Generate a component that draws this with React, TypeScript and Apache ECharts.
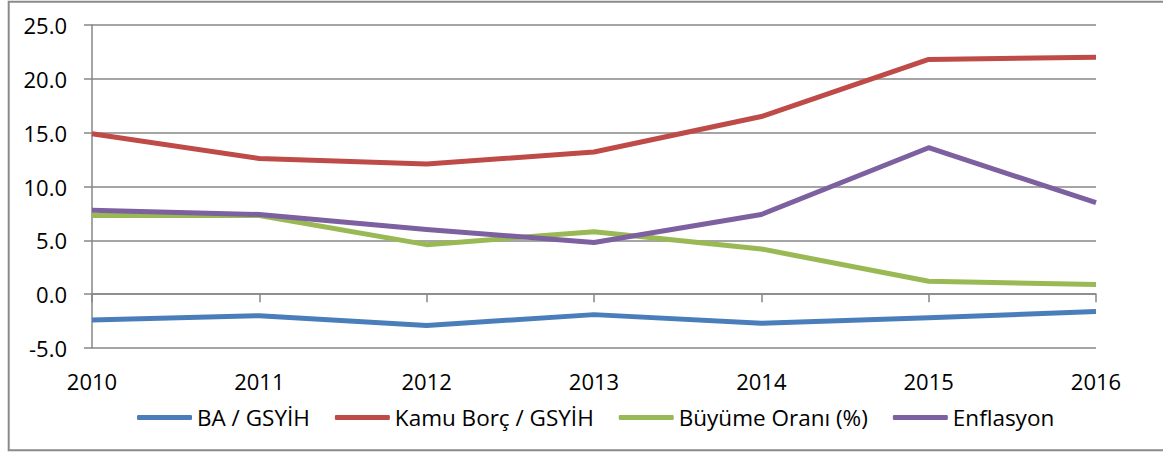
import React, { useEffect, useRef } from "react";
import * as echarts from "echarts";

const years = ["2010", "2011", "2012", "2013", "2014", "2015", "2016"];
const baGsyih = [-2.4, -2.0, -2.9, -1.9, -2.7, -2.2, -1.6];
const kamuBorc = [14.9, 12.6, 12.1, 13.2, 16.5, 21.8, 22.0];
const buyume = [7.3, 7.3, 4.6, 5.8, 4.2, 1.2, 0.9];
const enflasyon = [7.8, 7.4, 6.0, 4.8, 7.4, 13.6, 8.5];

const seriesNames = ["BA / GSYİH", "Kamu Borç / GSYİH", "Büyüme Oranı (%)", "Enflasyon"];
const seriesColors = ["#4A7EBB", "#BE4B48", "#98B954", "#7D60A0"];

const FONT = "'Open Sans', sans-serif";
const GRID_COLOR = "#878787";

export default function App() {
  const ref = useRef<HTMLDivElement>(null);

  useEffect(() => {
    if (!ref.current) return;
    const chart = echarts.init(ref.current, undefined, { renderer: "svg" });
    const dataSets = [baGsyih, kamuBorc, buyume, enflasyon];
    chart.setOption({
      animation: false,
      backgroundColor: "#ffffff",
      grid: { left: 92, right: 67, top: 25, bottom: 105, containLabel: false },
      legend: {
        left: 132,
        top: 401,
        itemWidth: 55,
        itemHeight: 5,
        itemGap: 25,
        icon: "roundRect",
        textStyle: { fontFamily: FONT, fontSize: 22.5, color: "#000" },
        data: seriesNames,
      },
      xAxis: [
        {
          type: "category",
          data: years,
          boundaryGap: false,
          position: "bottom",
          axisLine: { show: false, onZero: false },
          axisTick: { show: false },
          splitLine: { show: false },
          axisLabel: {
            color: "#000",
            fontFamily: FONT,
            fontSize: 22,
            margin: 22,
          },
        },
        {
          type: "category",
          data: years,
          boundaryGap: false,
          position: "bottom",
          axisLine: { show: true, onZero: true, lineStyle: { color: GRID_COLOR, width: 1.5 } },
          axisTick: { show: true, length: 8, lineStyle: { color: GRID_COLOR, width: 1.5 } },
          axisLabel: { show: false },
          splitLine: { show: false },
        },
      ],
      yAxis: {
        type: "value",
        min: -5,
        max: 25,
        interval: 5,
        axisLine: { show: true, lineStyle: { color: GRID_COLOR, width: 1.5 } },
        axisTick: { show: true, length: 8, lineStyle: { color: GRID_COLOR, width: 1.5 } },
        splitLine: { show: true, lineStyle: { color: GRID_COLOR, width: 1.5 } },
        axisLabel: {
          color: "#000",
          fontFamily: FONT,
          fontSize: 22,
          margin: 25,
          formatter: (v: number) => v.toFixed(1),
        },
      },
      graphic: [
        {
          type: "rect",
          shape: { x: 8.7, y: 1.8, width: 1180, height: 448.4 },
          style: { fill: "none", stroke: "#8a8a8a", lineWidth: 2 },
          silent: true,
          z: 100,
        },
      ],
      series: dataSets.map((d, i) => ({
        name: seriesNames[i],
        type: "line",
        data: d,
        xAxisIndex: 0,
        symbol: "none",
        showSymbol: false,
        color: seriesColors[i],
        lineStyle: { width: 5, color: seriesColors[i], join: "round" },
        itemStyle: { color: seriesColors[i] },
      })),
    });
    return () => chart.dispose();
  }, []);

  return (
    <div
      ref={ref}
      style={{ position: "fixed", left: 0, top: 0, width: 1163, height: 453, background: "#fff" }}
    />
  );
}
